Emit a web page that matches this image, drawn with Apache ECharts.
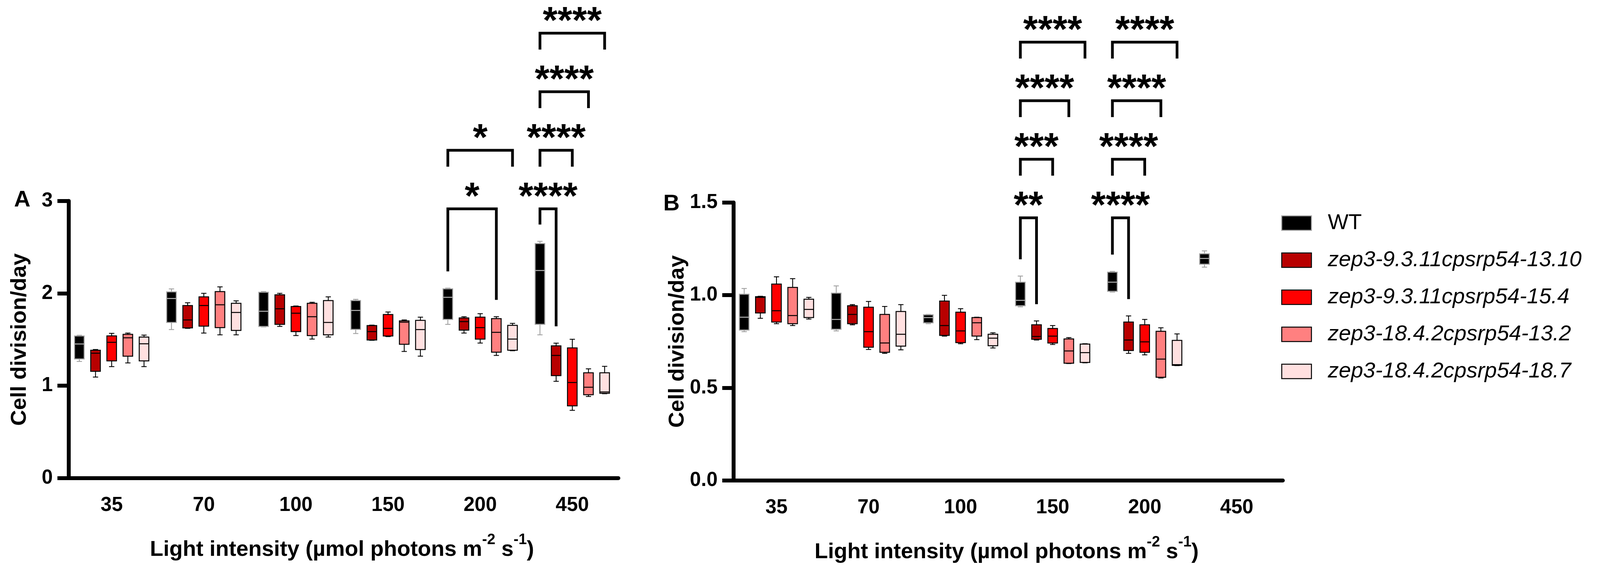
<!DOCTYPE html>
<html><head><meta charset="utf-8">
<script src="https://cdn.jsdelivr.net/npm/echarts@6/dist/echarts.min.js"></script>
<style>html,body{margin:0;padding:0;background:#fff}#c{width:4138px;height:1450px}</style>
</head><body><div id="c"></div>
<script>
// ---------------- DATA ----------------
const categories = ['35', '70', '100', '150', '200', '450'];
const seriesNames = ['WT', 'zep3-9.3.11cpsrp54-13.10', 'zep3-9.3.11cpsrp54-15.4', 'zep3-18.4.2cpsrp54-13.2', 'zep3-18.4.2cpsrp54-18.7'];
const yTickLabelsA = ['0', '1', '2', '3'];
const yTickLabelsB = ['0.0', '0.5', '1.0', '1.5'];

// each entry: [min, Q1, median, Q3, max] for light intensities 35,70,100,150,200,450
const A_WT   = [[1.263,1.290,1.452,1.538,1.546],[1.608,1.685,1.944,2.016,2.048],[1.637,1.642,1.806,2.011,2.019],[1.565,1.610,1.815,1.922,1.935],[1.664,1.718,1.957,2.048,2.056],[1.551,1.665,2.247,2.538,2.563]];
const A_1310 = [[1.094,1.156,1.352,1.384,1.392],[1.621,1.626,1.712,1.868,1.898],[1.642,1.664,1.833,1.984,2.000],[1.492,1.495,1.586,1.651,1.656],[1.570,1.602,1.694,1.734,1.747],[1.048,1.110,1.328,1.432,1.461]];
const A_154  = [[1.207,1.269,1.470,1.540,1.567],[1.570,1.645,1.868,1.962,2.000],[1.543,1.586,1.785,1.857,1.863],[1.532,1.538,1.621,1.771,1.798],[1.462,1.505,1.629,1.742,1.780],[0.734,0.782,1.035,1.410,1.503]];
const A_132  = [[1.247,1.320,1.519,1.556,1.570],[1.551,1.629,1.876,2.019,2.070],[1.505,1.543,1.747,1.892,1.903],[1.371,1.449,1.688,1.702,1.712],[1.328,1.363,1.578,1.726,1.747],[0.884,0.903,0.984,1.140,1.183]];
const A_187  = [[1.207,1.269,1.454,1.527,1.548],[1.551,1.599,1.793,1.892,1.919],[1.527,1.551,1.685,1.922,1.962],[1.320,1.392,1.608,1.707,1.742],[1.379,1.384,1.505,1.653,1.675],[0.914,0.919,0.933,1.140,1.210]];

const B_WT   = [[0.803,0.812,0.881,1.005,1.036],[0.807,0.816,0.869,1.011,1.050],[0.846,0.851,0.879,0.894,0.896],[0.937,0.943,0.972,1.070,1.103],[1.017,1.021,1.070,1.124,1.128],[1.151,1.167,1.198,1.223,1.239]];
const B_1310 = [[0.875,0.904,0.988,0.992,0.994],[0.840,0.846,0.896,0.943,0.949],[0.779,0.783,0.836,0.968,0.999],[0.758,0.762,0.777,0.840,0.861],[0.686,0.701,0.758,0.855,0.888],null];
const B_154  = [[0.846,0.855,0.916,1.060,1.099],[0.707,0.719,0.803,0.935,0.966],[0.738,0.744,0.807,0.908,0.927],[0.734,0.742,0.779,0.820,0.836],[0.678,0.692,0.748,0.840,0.869],null];
const B_132  = [[0.836,0.846,0.890,1.042,1.089],[0.686,0.692,0.742,0.896,0.939],[0.760,0.779,0.851,0.879,0.881],[0.631,0.633,0.699,0.764,0.771],[0.553,0.557,0.655,0.805,0.824],null];
const B_187  = [[0.871,0.879,0.923,0.978,0.988],[0.705,0.725,0.789,0.912,0.949],[0.715,0.727,0.768,0.789,0.797],[0.635,0.637,0.690,0.736,0.738],[0.620,0.621,0.625,0.756,0.791],null];

// significance: [category index, from series, to series, label]
const sigA = [[4,0,3,'*'],[4,0,4,'*'],[5,0,1,'****'],[5,0,2,'****'],[5,0,3,'****'],[5,0,4,'****']];
const sigB = [[3,0,1,'**'],[3,0,2,'***'],[3,0,3,'****'],[3,0,4,'****'],[4,0,1,'****'],[4,0,2,'****'],[4,0,3,'****'],[4,0,4,'****']];

// ---------------- STYLE / LAYOUT ----------------
const FONT = "'Liberation Sans', Arial, Helvetica, sans-serif";
const fills   = ['#000000', '#B80000', '#FF0000', '#FF8080', '#FFE0E0'];
const borders = ['#A0A0A0', '#000000', '#000000', '#000000', '#000000'];
const medians = ['#B4B4B4', '#000000', '#000000', '#000000', '#000000'];
const SLOT = 0.1755, BOXW = 0.104, CAPW = 0.057;
const LEVEL_STEP = 150, LEG_GAP = 43, LEG_LEN = 42, LABEL_RISE = 27;

const panels = [
  { data: [A_WT, A_1310, A_154, A_132, A_187], sig: sigA, sigBase: 2.914, max: 3, interval: 1, ticks: yTickLabelsA },
  { data: [B_WT, B_1310, B_154, B_132, B_187], sig: sigB, sigBase: 1.417, max: 1.5, interval: 0.5, ticks: yTickLabelsB }
];
panels.forEach(p => {
  const seen = {};
  p.levels = p.sig.map(r => { const k = r[0]; seen[k] = (seen[k] || 0); return seen[k]++; });
});

function boxRender(slot) {
  return function (params, api) {
    const c = api.value(0);
    const band = api.size([1, 0])[0];
    const x = api.coord([c, 0])[0] + (slot - 2) * band * SLOT;
    const yMin = api.coord([c, api.value(1)])[1];
    const yQ1 = api.coord([c, api.value(2)])[1];
    const yMed = api.coord([c, api.value(3)])[1];
    const yQ3 = api.coord([c, api.value(4)])[1];
    const yMax = api.coord([c, api.value(5)])[1];
    const bw = band * BOXW, cw = band * CAPW;
    const ls = { stroke: borders[slot], lineWidth: 2.2 };
    return { type: 'group', children: [
      { type: 'line', shape: { x1: x, y1: yQ3, x2: x, y2: yMax }, style: ls },
      { type: 'line', shape: { x1: x, y1: yQ1, x2: x, y2: yMin }, style: ls },
      { type: 'line', shape: { x1: x - cw / 2, y1: yMax, x2: x + cw / 2, y2: yMax }, style: ls },
      { type: 'line', shape: { x1: x - cw / 2, y1: yMin, x2: x + cw / 2, y2: yMin }, style: ls },
      { type: 'rect', shape: { x: x - bw / 2, y: yQ3, width: bw, height: yQ1 - yQ3 }, style: { fill: fills[slot], stroke: borders[slot], lineWidth: 2.5 } },
      { type: 'line', shape: { x1: x - bw / 2, y1: yMed, x2: x + bw / 2, y2: yMed }, style: { stroke: medians[slot], lineWidth: 2.5 } }
    ]};
  };
}

function bracketRender(p) {
  return function (params, api) {
    const r = p.sig[params.dataIndex];
    const cat = r[0], from = r[1], to = r[2], label = r[3];
    const level = p.levels[params.dataIndex];
    const band = api.size([1, 0])[0];
    const cx = api.coord([cat, 0])[0];
    const xL = cx + (from - 2) * band * SLOT, xR = cx + (to - 2) * band * SLOT;
    const yTop = api.coord([cat, p.sigBase])[1] - level * LEVEL_STEP;
    let yL, yR;
    if (level === 0) {
      yL = api.coord([cat, p.data[from][cat][4]])[1] - LEG_GAP;
      yR = api.coord([cat, p.data[to][cat][4]])[1] - LEG_GAP;
    } else { yL = yR = yTop + LEG_LEN; }
    return { type: 'group', children: [
      { type: 'polyline', shape: { points: [[xL, yL], [xL, yTop], [xR, yTop], [xR, yR]] },
        style: { stroke: '#000', lineWidth: 7, fill: null, lineJoin: 'miter', lineCap: 'butt' } },
      { type: 'text', style: { text: label, x: (xL + xR) / 2, y: yTop - LABEL_RISE, align: 'center', verticalAlign: 'middle',
        fontSize: 97, fontWeight: 'bold', fontFamily: FONT, fill: '#000' } }
    ]};
  };
}

const grids = [
  { left: 168, top: 514.7, width: 1415, height: 710.3 },
  { left: 1870, top: 518.7, width: 1414, height: 712.3 }
];
const xTitle = '{t|Light intensity (µmol photons m}{s|-2}{t| s}{s|-1}{t|)}';
const xAxes = grids.map((g, i) => ({
  type: 'category', gridIndex: i, data: categories, boundaryGap: true,
  axisLine: { lineStyle: { color: '#000', width: 10 } },
  axisTick: { alignWithLabel: true, length: 29, lineStyle: { color: '#000', width: 10 } },
  axisLabel: { margin: 44, fontSize: 51, fontWeight: 'bold', fontFamily: FONT, color: '#000' },
  name: xTitle, nameLocation: 'middle', nameGap: 140,
  nameTextStyle: { rich: {
    t: { fontSize: 56, fontWeight: 'bold', fontFamily: FONT, color: '#000', lineHeight: 72, verticalAlign: 'bottom' },
    s: { fontSize: 38, fontWeight: 'bold', fontFamily: FONT, color: '#000', lineHeight: 38, verticalAlign: 'top' }
  } }
}));
const yAxes = panels.map((p, i) => ({
  type: 'value', gridIndex: i, min: 0, max: p.max, interval: p.interval, offset: -8,
  axisLine: { show: true, lineStyle: { color: '#000', width: 10 } },
  axisTick: { show: true, length: 29, lineStyle: { color: '#000', width: 10 } },
  splitLine: { show: false },
  axisLabel: { margin: 41, fontSize: 51, fontWeight: 'bold', fontFamily: FONT, color: '#000',
    formatter: (v) => p.ticks[Math.round(v / p.interval)] },
  name: 'Cell division/day', nameLocation: 'middle', nameGap: 97,
  nameTextStyle: { fontSize: 56, fontWeight: 'bold', fontFamily: FONT, color: '#000' }
}));

const series = [];
panels.forEach((p, pi) => {
  p.data.forEach((vals, s) => {
    series.push({
      type: 'custom', name: seriesNames[s], xAxisIndex: pi, yAxisIndex: pi,
      dimensions: ['cat', 'min', 'q1', 'med', 'q3', 'max'],
      encode: { x: 0, y: [1, 2, 3, 4, 5] },
      itemStyle: { color: fills[s], borderColor: borders[s], borderWidth: 2.5 },
      renderItem: boxRender(s), silent: true, z: 3,
      data: vals.map((v, ci) => v ? [ci].concat(v) : null).filter(d => d)
    });
  });
  series.push({
    type: 'custom', name: 'sig' + pi, xAxisIndex: pi, yAxisIndex: pi,
    encode: { x: 0, y: 1 }, renderItem: bracketRender(p), silent: true, z: 5, clip: false,
    data: p.sig.map(r => [r[0], 0])
  });
});

const chart = echarts.init(document.getElementById('c'), null, { renderer: 'canvas' });
chart.setOption({
  animation: false,
  backgroundColor: '#fff',
  grid: grids,
  xAxis: xAxes,
  yAxis: yAxes,
  legend: {
    orient: 'vertical', left: 3280, top: 543, itemWidth: 76, itemHeight: 37, itemGap: 38,
    icon: 'rect', selectedMode: false, padding: 0,
    itemStyle: { borderWidth: 2.5 },
    textStyle: { fontSize: 56, fontStyle: 'italic', fontFamily: FONT, color: '#000', padding: [0, 0, 0, 37], lineHeight: 57 },
    data: seriesNames.map((n, i) => i === 0 ? { name: n, textStyle: { fontStyle: 'normal' } } : { name: n })
  },
  graphic: [
    { type: 'text', x: 57, y: 513, style: { text: 'A', fontSize: 58, fontWeight: 'bold', fontFamily: FONT, fill: '#000', align: 'center', verticalAlign: 'middle' } },
    { type: 'text', x: 1719, y: 523, style: { text: 'B', fontSize: 58, fontWeight: 'bold', fontFamily: FONT, fill: '#000', align: 'center', verticalAlign: 'middle' } }
  ],
  series: series
});
</script></body></html>
